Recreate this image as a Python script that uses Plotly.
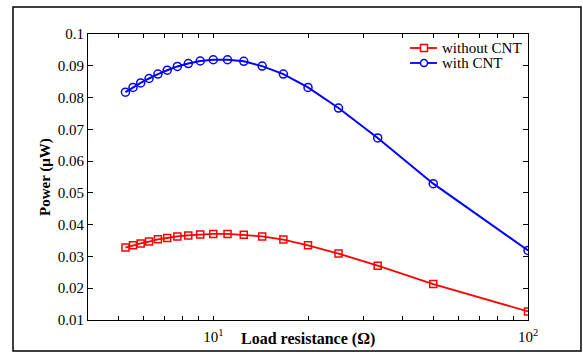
import plotly.graph_objects as go

resistance = [5.26, 5.56, 5.88, 6.25, 6.67, 7.14, 7.69, 8.33, 9.09, 10, 11.1, 12.5, 14.3, 16.7, 20, 25, 33.3, 50, 100]
power_without = [0.0328, 0.0335, 0.0341, 0.0347, 0.0354, 0.0358, 0.0363, 0.0366, 0.0369, 0.0371, 0.0371, 0.0368, 0.0363, 0.0353, 0.0335, 0.0309, 0.0271, 0.0213, 0.0127]
power_with = [0.0817, 0.0832, 0.0846, 0.0860, 0.0874, 0.0886, 0.0898, 0.0907, 0.0915, 0.0919, 0.0919, 0.0914, 0.0899, 0.0874, 0.0832, 0.0767, 0.0673, 0.0529, 0.0319]

x_tickvals = [10, 100]
x_ticktext = ["10<sup>1</sup>", "10<sup>2</sup>"]
x_minorvals = [5, 6, 7, 8, 9, 20, 30, 40, 50, 60, 70, 80, 90]
y_tickvals = [0.01, 0.02, 0.03, 0.04, 0.05, 0.06, 0.07, 0.08, 0.09, 0.1]
y_ticktext = ["0.01", "0.02", "0.03", "0.04", "0.05", "0.06", "0.07", "0.08", "0.09", "0.1"]

series_names = ["without CNT", "with CNT"]
series_colors = ["#ff0000", "#0000ff"]

FONT = "Liberation Serif, Times New Roman, serif"

# plot-area geometry in pixels (for paper-coordinate legend drawing)
PW, PH = 440, 286

fig = go.Figure()
fig.add_trace(go.Scatter(
    x=resistance, y=power_without, mode="lines+markers", name=series_names[0],
    line=dict(color=series_colors[0], width=1.8),
    marker=dict(symbol="square-open", size=7, color=series_colors[0], line=dict(width=1.5)),
))
fig.add_trace(go.Scatter(
    x=resistance, y=power_with, mode="lines+markers", name=series_names[1],
    line=dict(color=series_colors[1], width=2),
    marker=dict(symbol="circle-open", size=8, color=series_colors[1], line=dict(width=1.5)),
))

# manual legend (paper coordinates)
shapes = []
annotations = []
leg_x0, leg_x1, leg_xc = (410 - 88) / PW, (437 - 88) / PW, (424 - 88) / PW
rows_y = [(320 - 48) / PH, (320 - 63) / PH]
hx, hy = 3.5 / PW, 3.5 / PH
for i, (name, col) in enumerate(zip(series_names, series_colors)):
    yy = rows_y[i]
    shapes.append(dict(type="line", xref="paper", yref="paper", x0=leg_x0, x1=leg_x1, y0=yy, y1=yy,
                       line=dict(color=col, width=1.8)))
    shapes.append(dict(type="rect" if i == 0 else "circle", xref="paper", yref="paper",
                       x0=leg_xc - hx, x1=leg_xc + hx, y0=yy - hy, y1=yy + hy,
                       fillcolor="white", line=dict(color=col, width=1.5)))
    annotations.append(dict(text=name, xref="paper", yref="paper", x=(440 - 88) / PW, y=yy,
                            xanchor="left", yanchor="middle", showarrow=False,
                            font=dict(size=15, family=FONT, color="black")))

annotations += [
    dict(text="<b>Load resistance (Ω)</b>", xref="paper", yref="paper",
         x=0.5, y=(320 - 339) / PH, xanchor="center", yanchor="middle", showarrow=False,
         font=dict(size=16, family=FONT)),
    dict(text="<b>Power (μW)</b>", xref="paper", yref="paper", textangle=-90,
         x=(45 - 88) / PW, y=0.5, xanchor="center", yanchor="middle", showarrow=False,
         font=dict(size=15, family=FONT)),
]
shapes.append(dict(type="rect", xref="paper", yref="paper",
                   x0=(13 - 88) / PW, x1=(581 - 88) / PW, y0=(320 - 351) / PH, y1=(320 - 7) / PH,
                   line=dict(color="black", width=1.5)))

fig.update_layout(
    width=583, height=359,
    margin=dict(l=88, r=55, t=34, b=39),
    paper_bgcolor="white", plot_bgcolor="white",
    font=dict(family=FONT, size=15, color="black"),
    showlegend=False,
    xaxis=dict(type="log", range=[0.602, 2.0], tickmode="array", tickvals=x_tickvals, ticktext=x_ticktext,
               ticks="inside", ticklen=4, tickcolor="black", showline=True, linecolor="black",
               linewidth=1, mirror="ticks", showgrid=False, zeroline=False, ticklabelstandoff=3,
               minor=dict(tickmode="array", tickvals=x_minorvals, ticks="inside", ticklen=4,
                          tickcolor="black", showgrid=False),
               tickfont=dict(size=15, family=FONT)),
    yaxis=dict(range=[0.01, 0.1], tickmode="array", tickvals=y_tickvals, ticktext=y_ticktext,
               ticks="inside", ticklen=5, tickcolor="black", showline=True, linecolor="black",
               linewidth=1, mirror="ticks", showgrid=False, zeroline=False,
               tickfont=dict(size=15, family=FONT)),
    annotations=annotations,
    shapes=shapes,
)

fig.write_html("out.html")
